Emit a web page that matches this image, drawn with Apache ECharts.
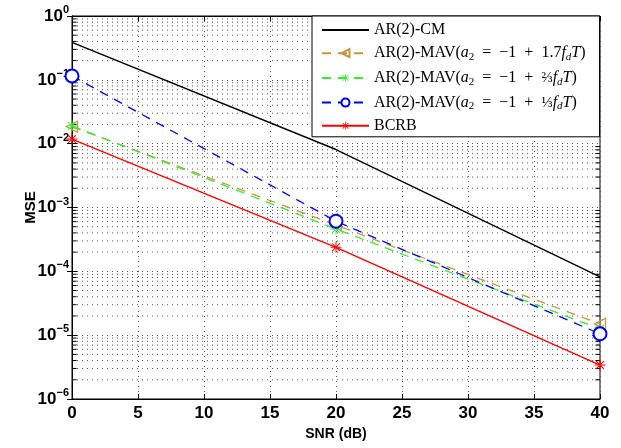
<!DOCTYPE html>
<html>
<head>
<meta charset="utf-8">
<script src="https://cdn.jsdelivr.net/npm/echarts@6/dist/echarts.min.js"></script>
<style>html,body{margin:0;padding:0;background:#fff}#c{width:621px;height:448px}</style>
</head>
<body>
<div id="c"></div>
<script>
// ---- data ----
const snr = [0, 20, 40];
const arCM = [0.385, 0.0081, 8.2e-5];
const mav17 = [0.0184, 5.3e-4, 1.5e-5];
const mav23 = [0.019, 4.6e-4, 1.25e-5];
const mav13 = [0.115, 6.1e-4, 1.05e-5];
const bcrb = [0.0118, 2.38e-4, 3.4e-6];
const xTicks = [0, 5, 10, 15, 20, 25, 30, 35, 40];
const yDecades = [-6, -5, -4, -3, -2, -1, 0];
const minorMult = [2, 3, 4, 5, 6, 7, 8, 9];
const names = [
  'AR(2)-CM',
  'AR(2)-MAV(a2 = −1 + 1.7fdT)',
  'AR(2)-MAV(a2 = −1 + 2/3fdT)',
  'AR(2)-MAV(a2 = −1 + 1/3fdT)',
  'BCRB'
];

// ---- build ----
const xMin = xTicks[0], xMax = xTicks[xTicks.length - 1];
const minorVals = [];
yDecades.slice(0, -1).forEach(d => minorMult.forEach(m => minorVals.push(m * Math.pow(10, d))));
const tickLen = 0.35;
const dotted = { type: [1, 4], color: '#555', width: 1 };

const helperSeries = [];
minorVals.forEach(v => {
  helperSeries.push({
    type: 'line', silent: true, symbol: 'none', showSymbol: false, z: 1,
    data: [[xMin, v], [xMax, v]], lineStyle: dotted, color: '#555', tooltip: { show: false }
  });
  helperSeries.push({
    type: 'line', silent: true, symbol: 'none', showSymbol: false, z: 2,
    data: [[xMin, v], [xMin + tickLen, v]], lineStyle: { color: '#000', width: 1 }, color: '#000'
  });
  helperSeries.push({
    type: 'line', silent: true, symbol: 'none', showSymbol: false, z: 2,
    data: [[xMax - tickLen, v], [xMax, v]], lineStyle: { color: '#000', width: 1 }, color: '#000'
  });
});
const pts = arr => snr.map((x, i) => [x, arr[i]]);

const asterisk = 'path://M-0.9,-10 L0.9,-10 L0.9,10 L-0.9,10 Z M-10,-0.9 L10,-0.9 L10,0.9 L-10,0.9 Z M-7.7,-6.4 L-6.4,-7.7 L7.7,6.4 L6.4,7.7 Z M-7.7,6.4 L-6.4,7.7 L7.7,-6.4 L6.4,-7.7 Z';
const triLeft = 'path://M20,0 L20,20 L0,10 Z';

const cOr = '#c9963a', cGr = '#33ee33', cBl = '#0000ff', cRd = '#ff0000';
const dash = [9, 7];

const serifFont = '"Liberation Serif","Times New Roman","DejaVu Serif",serif';
const legendRich = {
  n: { fontFamily: serifFont, fontSize: 16, color: '#000', lineHeight: 18 },
  i: { fontFamily: serifFont, fontSize: 16, fontStyle: 'italic', color: '#000', lineHeight: 18 },
  sub: { fontFamily: serifFont, fontSize: 11, color: '#000', lineHeight: 11, padding: [8, 0, 0, 0] },
  subi: { fontFamily: serifFont, fontSize: 11, fontStyle: 'italic', color: '#000', lineHeight: 11, padding: [8, 0, 0, 0] },
  fr: { fontFamily: serifFont, fontSize: 15, color: '#000', lineHeight: 18 }
};
function legendFmt(name) {
  if (name === names[1]) return '{n|AR(2)-MAV(}{i|a}{sub|2}{n|  =  −1  +  1.7}{i|f}{subi|d}{i|T}{n|)}';
  if (name === names[2]) return '{n|AR(2)-MAV(}{i|a}{sub|2}{n|  =  −1  +  }{fr|⅔}{i|f}{subi|d}{i|T}{n|)}';
  if (name === names[3]) return '{n|AR(2)-MAV(}{i|a}{sub|2}{n|  =  −1  +  }{fr|⅓}{i|f}{subi|d}{i|T}{n|)}';
  return '{n|' + name + '}';
}

const boldFont = '"Liberation Sans",Arial,Helvetica,sans-serif';
const chart = echarts.init(document.getElementById('c'), null, { renderer: 'canvas' });

chart.setOption({
  animation: false,
  backgroundColor: '#fff',
  grid: { left: 72, right: 21, top: 16, bottom: 49, show: true, borderColor: '#000', borderWidth: 1, backgroundColor: 'transparent' },
  legend: {
    data: [
      { name: names[0], itemStyle: { opacity: 0 } },
      names[1], names[2], names[3], names[4]
    ],
    orient: 'vertical',
    left: 312, top: 16,
    padding: [6, 14, 3, 9],
    itemGap: 5.7,
    itemWidth: 47, itemHeight: 10,
    backgroundColor: '#fff',
    borderColor: '#000', borderWidth: 1,
    formatter: legendFmt,
    textStyle: { rich: legendRich, fontFamily: serifFont, fontSize: 16, color: '#000' }
  },
  xAxis: [{
    type: 'value', min: xMin, max: xMax, interval: 5,
    name: 'SNR (dB)', nameLocation: 'middle', nameGap: 26,
    nameTextStyle: { fontFamily: boldFont, fontWeight: 'bold', fontSize: 14, color: '#000' },
    axisLine: { show: true, lineStyle: { color: '#000', width: 1 } },
    axisTick: { show: true, inside: true, length: 5, lineStyle: { color: '#000' } },
    axisLabel: { fontFamily: boldFont, fontWeight: 'bold', fontSize: 17, color: '#000', margin: 6 },
    splitLine: { show: true, lineStyle: dotted }
  }, {
    type: 'value', position: 'top', min: xMin, max: xMax, interval: 5,
    axisLine: { show: true, lineStyle: { color: '#000', width: 1 } },
    axisTick: { show: true, inside: true, length: 5, lineStyle: { color: '#000' } },
    axisLabel: { show: false }, splitLine: { show: false }
  }],
  yAxis: [{
    type: 'log', logBase: 10, min: Math.pow(10, yDecades[0]), max: Math.pow(10, yDecades[yDecades.length - 1]),
    name: 'MSE', nameLocation: 'middle', nameGap: 34, nameMoveOverlap: false,
    nameTextStyle: { fontFamily: boldFont, fontWeight: 'bold', fontSize: 15, color: '#000' },
    axisLine: { show: true, lineStyle: { color: '#000', width: 1 } },
    axisTick: { show: true, inside: true, length: 5, lineStyle: { color: '#000' } },
    axisLabel: {
      margin: 3,
      formatter: v => {
        const e = Math.round(Math.log10(v));
        return '{b|10}{s|' + (e < 0 ? '−' + (-e) : e) + '}';
      },
      rich: {
        b: { fontFamily: boldFont, fontWeight: 'bold', fontSize: 17, color: '#000' },
        s: { fontFamily: boldFont, fontWeight: 'bold', fontSize: 11, color: '#000', padding: [0, 0, 12, 0] }
      }
    },
    splitLine: { show: true, lineStyle: dotted }
  }, {
    type: 'log', logBase: 10, position: 'right', min: Math.pow(10, yDecades[0]), max: Math.pow(10, yDecades[yDecades.length - 1]),
    axisLine: { show: true, lineStyle: { color: '#000', width: 1 } },
    axisTick: { show: true, inside: true, length: 5, lineStyle: { color: '#000' } },
    axisLabel: { show: false }, splitLine: { show: false }
  }],
  series: helperSeries.concat([
    {
      name: names[0], type: 'line', data: pts(arCM), showSymbol: false, symbol: 'none',
      color: '#000', lineStyle: { color: '#000', width: 1.4 }, clip: false, z: 3
    },
    {
      name: names[1], type: 'line', data: pts(mav17), symbol: triLeft, symbolSize: 11,
      color: cOr, lineStyle: { color: cOr, width: 1.3, type: dash },
      itemStyle: { color: 'rgba(0,0,0,0)', borderColor: cOr, borderWidth: 1.3 }, clip: false, z: 4
    },
    {
      name: names[2], type: 'line', data: pts(mav23), symbol: asterisk, symbolSize: 11,
      color: cGr, lineStyle: { color: cGr, width: 1.3, type: dash },
      itemStyle: { color: cGr }, clip: false, z: 5
    },
    {
      name: names[3], type: 'line', data: pts(mav13), symbol: 'emptyCircle', symbolSize: 13,
      color: cBl, lineStyle: { color: cBl, width: 1.3, type: dash },
      itemStyle: { color: cBl, borderColor: cBl, borderWidth: 1.6 }, clip: false, z: 6
    },
    {
      name: names[4], type: 'line', data: pts(bcrb), symbol: asterisk, symbolSize: 11,
      color: cRd, lineStyle: { color: cRd, width: 1.4 },
      itemStyle: { color: cRd }, clip: false, z: 7
    }
  ])
});
</script>
</body>
</html>
